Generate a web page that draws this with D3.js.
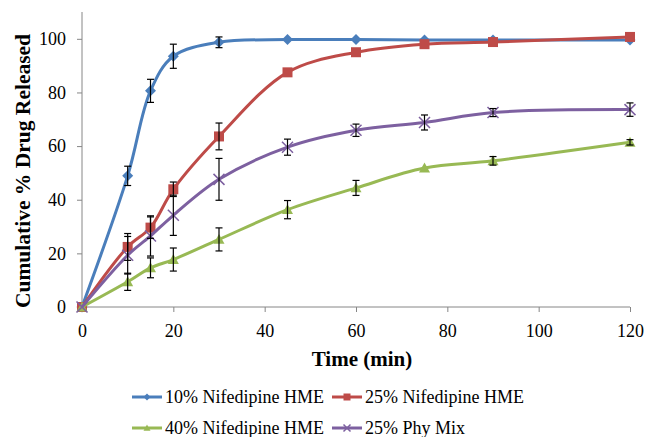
<!DOCTYPE html>
<html>
<head>
<meta charset="utf-8">
<script src="https://cdn.jsdelivr.net/npm/d3@7"></script>
<style>
body { margin: 0; background: #fff; }
svg text { font-family: "Liberation Serif", "Times New Roman", serif; }
</style>
</head>
<body>
<div id="visu"></div>
<script>
// release times (min)
var times = [0, 10, 15, 20, 30, 45, 60, 75, 90, 120];

var seriesNames = ["10% Nifedipine HME", "25% Nifedipine HME", "40% Nifedipine HME", "25% Phy Mix"];

var hme10 = [0, 48.9, 80.6, 93.5, 98.7, 99.7, 99.7, 99.6, 99.6, 99.6];
var hme25 = [0, 22.4, 29.6, 43.9, 63.6, 87.5, 95.0, 98.0, 98.8, 100.7];
var hme40 = [0, 9.4, 14.6, 17.7, 25.2, 36.3, 44.4, 51.8, 54.5, 61.4];
var phyMix = [0, 19.3, 26.5, 34.2, 47.6, 59.6, 65.9, 68.8, 72.5, 73.6];

var err10 = [0, 3.6, 4.3, 4.5, 2.0, 0, 0, 0, 0, 0];
var err25 = [0, 5.0, 4.0, 2.7, 5.0, 0, 0, 0, 0, 0];
var err40 = [0, 3.2, 3.7, 4.3, 4.3, 3.4, 2.8, 0, 1.6, 1.0];
var errPhy = [0, 7.0, 7.5, 7.5, 7.8, 3.0, 2.3, 2.8, 1.5, 2.5];

var xTicks = [0, 20, 40, 60, 80, 100, 120];
var yTicks = [0, 20, 40, 60, 80, 100];

var colors = ["#4A7EBB", "#BE4B48", "#98B954", "#7D60A0"];
var markers = ["diamond", "square", "triangle", "cross"];

var width = 646, height = 437;
var pLeft = 82, pRight = 630, pTop = 12, pBottom = 307;

var x = d3.scaleLinear().domain([0, 120]).range([pLeft, pRight]);
var y = d3.scaleLinear().domain([0, 110]).range([pBottom, pTop]);

var svg = d3.select("#visu").append("svg")
    .attr("width", width)
    .attr("height", height);

var series = [hme10, hme25, hme40, phyMix].map(function (vals, i) {
    var errs = [err10, err25, err40, errPhy][i];
    return {
        name: seriesNames[i],
        color: colors[i],
        marker: markers[i],
        points: times.map(function (t, j) { return { t: t, v: vals[j], e: errs[j] }; })
    };
});

// axes
var xAxis = d3.axisBottom(x).tickValues(xTicks).tickSize(5).tickPadding(12);
var yAxis = d3.axisLeft(y).tickValues(yTicks).tickSize(5).tickPadding(11);

var gx = svg.append("g").attr("transform", "translate(0," + pBottom + ")").call(xAxis);
var gy = svg.append("g").attr("transform", "translate(" + pLeft + ",0)").call(yAxis);
gy.select(".domain").attr("d", "M0," + (pBottom + 0.5) + "V" + pTop);
gx.select(".domain").attr("d", "M" + pLeft + ",0H" + pRight);
[gx, gy].forEach(function (g) {
    g.attr("font-family", null).attr("font-size", null);
    g.selectAll(".domain, line").attr("stroke", "#868686");
    g.selectAll("text").attr("fill", "#000").style("font-size", "18px");
});

var line = d3.line()
    .x(function (d) { return x(d.t); })
    .y(function (d) { return y(d.v); })
    .curve(d3.curveCatmullRom.alpha(0.5));

function markerPath(type, s) {
    if (type === "diamond") return "M0," + (-s) + "L" + s + ",0L0," + s + "L" + (-s) + ",0Z";
    if (type === "square") return "M" + (-s) + "," + (-s) + "H" + s + "V" + s + "H" + (-s) + "Z";
    if (type === "triangle") return "M0," + (-s) + "L" + s + "," + (s * 0.8) + "H" + (-s) + "Z";
    return "M" + (-s) + "," + (-s) + "L" + s + "," + s + "M" + s + "," + (-s) + "L" + (-s) + "," + s;
}

function drawMarker(g, type, color, s) {
    var p = g.append("path").attr("d", markerPath(type, s));
    if (type === "cross") p.attr("fill", "none").attr("stroke", color).attr("stroke-width", 1.5);
    else p.attr("fill", color);
}

var plot = svg.append("g");
series.forEach(function (s) {
    plot.append("path")
        .datum(s.points)
        .attr("d", line)
        .attr("fill", "none")
        .attr("stroke", s.color)
        .attr("stroke-width", 3);
    s.points.forEach(function (d) {
        var g = plot.append("g").attr("transform", "translate(" + x(d.t) + "," + y(d.v) + ")");
        drawMarker(g, s.marker, s.color, s.marker === "square" ? 5 : 5.5);
    });
});

// error bars on top
var eb = svg.append("g").attr("stroke", "#000").attr("stroke-width", 1.2);
series.forEach(function (s) {
    s.points.forEach(function (d) {
        if (!d.e) return;
        var cx = x(d.t), y1 = y(d.v + d.e), y2 = y(d.v - d.e);
        eb.append("line").attr("x1", cx).attr("x2", cx).attr("y1", y1).attr("y2", y2);
        eb.append("line").attr("x1", cx - 3.5).attr("x2", cx + 3.5).attr("y1", y1).attr("y2", y1);
        eb.append("line").attr("x1", cx - 3.5).attr("x2", cx + 3.5).attr("y1", y2).attr("y2", y2);
    });
});

// axis titles
svg.append("text")
    .attr("x", 362).attr("y", 366)
    .attr("text-anchor", "middle")
    .style("font-size", "21px").style("font-weight", "bold")
    .text("Time (min)");

svg.append("text")
    .attr("transform", "translate(30,171) rotate(-90)")
    .attr("text-anchor", "middle")
    .style("font-size", "21.5px").style("font-weight", "bold")
    .text("Cumulative % Drug Released");

// legend
var legendPos = [[132, 397], [332, 397], [132, 428], [332, 428]];
series.forEach(function (s, i) {
    var g = svg.append("g").attr("transform", "translate(" + legendPos[i][0] + "," + legendPos[i][1] + ")");
    g.append("line").attr("x1", 0).attr("x2", 30).attr("y1", 0).attr("y2", 0)
        .attr("stroke", s.color).attr("stroke-width", 3);
    var m = g.append("g").attr("transform", "translate(15,0)");
    drawMarker(m, s.marker, s.color, 3.5);
    g.append("text").attr("x", 33).attr("y", 6)
        .style("font-size", "18px")
        .text(s.name);
});
</script>
</body>
</html>
